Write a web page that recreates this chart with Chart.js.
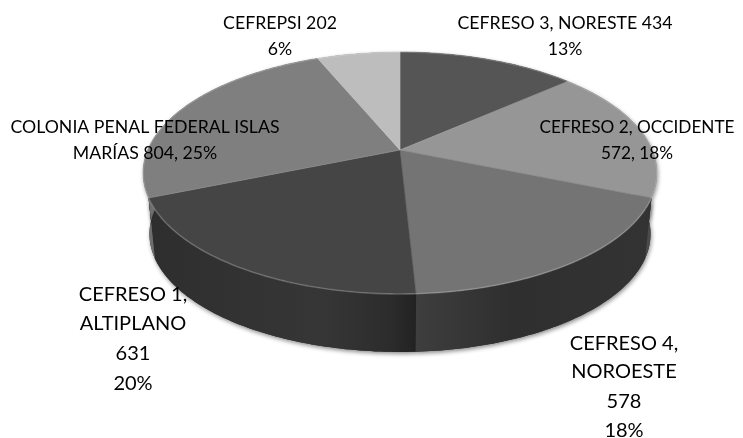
<!DOCTYPE html>
<html>
<head>
<meta charset="utf-8">
<style>
  html, body { margin: 0; padding: 0; background: #fff; }
  canvas { display: block; }
</style>
<script src="https://cdn.jsdelivr.net/npm/chart.js@4"></script>
</head>
<body>
<canvas id="pie" width="743" height="438"></canvas>
<script>
// Data
const categories = ['CEFRESO 3, NORESTE', 'CEFRESO 2, OCCIDENTE', 'CEFRESO 4, NOROESTE', 'CEFRESO 1, ALTIPLANO', 'COLONIA PENAL FEDERAL ISLAS MARÍAS', 'CEFREPSI'];
const values = [434, 572, 578, 631, 804, 202];
const percents = ['13%', '18%', '18%', '20%', '25%', '6%'];

// Colours
const faceColors = ['#555555', '#969696', '#747474', '#454545', '#7f7f7f', '#bdbdbd'];
const wallColors = [
    [[0, '#3a3a3a'], [1, '#3a3a3a']],
    [[0, '#555555'], [1, '#4a4a4a']],
    [[0, '#3e3e3e'], [0.1, '#3a3a3a'], [0.4, '#2f2f2f'], [1, '#333333']],
    [[0, '#2e2e2e'], [0.65, '#363636'], [0.9, '#2c2c2c'], [1, '#222222']],
    [[0, '#6e6e6e'], [1, '#6e6e6e']],
    [[0, '#999999'], [1, '#999999']]
];

// Label lines, built from the data
const labelBlocks = [
    { lines: [`${categories[0]} ${values[0]}`, percents[0]], x: 565, y: [23, 49], size: 17.7 },
    { lines: [categories[1], `${values[1]}, ${percents[1]}`], x: 637, y: [127, 153], size: 17.2 },
    { lines: ['CEFRESO 4,', 'NOROESTE', `${values[2]}`, percents[2]], x: 624, y: [344, 372, 402, 431], size: 20 },
    { lines: ['CEFRESO 1,', 'ALTIPLANO', `${values[3]}`, percents[3]], x: 133, y: [295, 324, 354, 384], size: 20 },
    { lines: ['COLONIA PENAL FEDERAL ISLAS', `MARÍAS ${values[4]}, ${percents[4]}`], x: 145, y: [127, 153], size: 17.7 },
    { lines: [`${categories[5]} ${values[5]}`, percents[5]], x: 280, y: [23, 49], size: 17.7 }
];

// Perspective of the tilted disc
const hubX = 400, hubY = 150;
const spreadX = 252.3, spreadY = 116.6, tilt = 0.19;
const wallDrop = 61.6, wallShrink = 0.975;

const rimPoint = (angle, lower) => {
    const u = Math.cos(angle), v = Math.sin(angle);
    const d = 1 - tilt * v;
    const x = spreadX * u / d, y = spreadY * v / d;
    if (lower) return [hubX + x * wallShrink, hubY + y * wallShrink + wallDrop];
    return [hubX + x, hubY + y];
};

const rimPath = (ctx, from, to, lower, move) => {
    const steps = Math.max(8, Math.ceil(Math.abs(to - from) * 60));
    for (let i = 0; i <= steps; i++) {
        const p = rimPoint(from + (to - from) * i / steps, lower);
        if (i === 0 && move) ctx.moveTo(p[0], p[1]);
        else ctx.lineTo(p[0], p[1]);
    }
};

const pie3d = {
    id: 'pie3d',
    beforeDatasetDraw(chart) {
        const ctx = chart.ctx;
        const arcs = chart.getDatasetMeta(0).data;

        const wall = (arc) => {
            ctx.beginPath();
            rimPath(ctx, arc.startAngle, arc.endAngle, false, true);
            rimPath(ctx, arc.endAngle, arc.startAngle, true, false);
            ctx.closePath();
        };

        // Soft shadow under the disc
        ctx.save();
        ctx.shadowColor = 'rgba(0,0,0,0.45)';
        ctx.shadowBlur = 4;
        ctx.shadowOffsetX = 1;
        ctx.shadowOffsetY = 2;
        ctx.fillStyle = '#333';
        arcs.forEach(arc => { wall(arc); ctx.fill(); });
        ctx.restore();

        // Side walls
        arcs.forEach((arc, i) => {
            const a = rimPoint(arc.startAngle, false)[0], b = rimPoint(arc.endAngle, false)[0];
            const g = ctx.createLinearGradient(Math.min(a, b), 0, Math.max(a, b), 0);
            wallColors[i].forEach(s => g.addColorStop(s[0], s[1]));
            ctx.fillStyle = g;
            wall(arc);
            ctx.fill();
        });

        // Top faces
        arcs.forEach((arc, i) => {
            ctx.beginPath();
            ctx.moveTo(hubX, hubY);
            rimPath(ctx, arc.startAngle, arc.endAngle, false, false);
            ctx.closePath();
            ctx.fillStyle = faceColors[i];
            ctx.fill();
            ctx.strokeStyle = faceColors[i];
            ctx.lineWidth = 0.6;
            ctx.stroke();
        });

        // Light bevel on the rim and between slices
        ctx.save();
        arcs.forEach(arc => {
            ctx.beginPath();
            rimPath(ctx, arc.startAngle, arc.endAngle, false, true);
            ctx.strokeStyle = 'rgba(255,255,255,0.2)';
            ctx.lineWidth = 1.6;
            ctx.stroke();
            const p = rimPoint(arc.startAngle, false);
            ctx.beginPath();
            ctx.moveTo(hubX, hubY);
            ctx.lineTo(p[0], p[1]);
            ctx.strokeStyle = 'rgba(255,255,255,0.08)';
            ctx.lineWidth = 1;
            ctx.stroke();
        });
        ctx.restore();
        return false;
    },
    afterDatasetsDraw(chart) {
        const ctx = chart.ctx;
        ctx.save();
        ctx.fillStyle = '#000';
        ctx.textAlign = 'center';
        ctx.textBaseline = 'middle';
        labelBlocks.forEach(block => {
            ctx.font = `${block.size}px Lato, sans-serif`;
            block.lines.forEach((line, i) => ctx.fillText(line, block.x, block.y[i]));
        });
        ctx.restore();
    }
};

new Chart(document.getElementById('pie').getContext('2d'), {
    type: 'pie',
    data: {
        labels: categories,
        datasets: [{ data: values, backgroundColor: faceColors, borderWidth: 0 }]
    },
    options: {
        responsive: false,
        animation: false,
        plugins: { legend: { display: false }, tooltip: { enabled: false } }
    },
    plugins: [pie3d]
});
</script>
</body>
</html>
